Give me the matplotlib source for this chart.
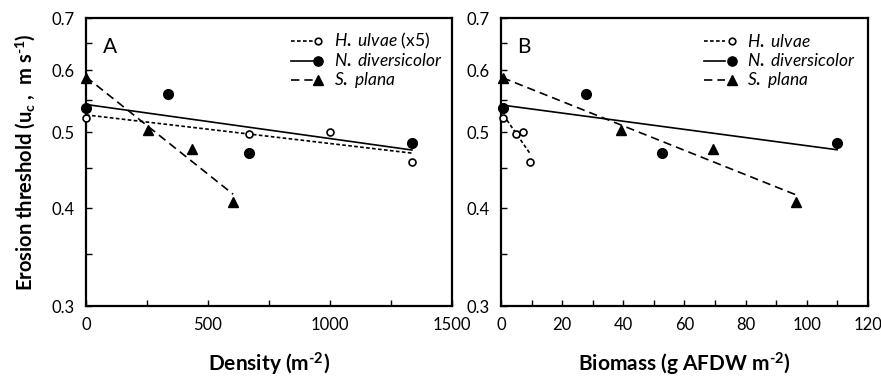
import matplotlib
matplotlib.use('Agg')
from matplotlib import pyplot as plt
from matplotlib.ticker import FixedLocator, NullFormatter
import numpy as np

plt.rcParams['font.family'] = ['Lato', 'DejaVu Sans']
plt.rcParams['mathtext.fontset'] = 'custom'
plt.rcParams['mathtext.rm'] = 'Lato:bold'
plt.rcParams['mathtext.it'] = 'Lato:italic'
plt.rcParams['mathtext.bf'] = 'Lato:bold'

# erosion threshold (m s-1), same for both panels
hul_u = [0.522, 0.498, 0.500, 0.459]
ndi_u = [0.537, 0.560, 0.471, 0.485]
spl_u = [0.587, 0.503, 0.476, 0.408]

# panel A: density (m-2)
hul_dens = [0, 667, 1000, 1336]
ndi_dens = [0, 335, 667, 1336]
spl_dens = [0, 253, 436, 603]

# panel B: biomass (g AFDW m-2)
hul_bio = [0.8, 4.9, 7.2, 9.5]
ndi_bio = [0.5, 27.8, 52.7, 109.9]
spl_bio = [0.5, 39.1, 69.2, 96.5]

yticks = [0.3, 0.4, 0.5, 0.6, 0.7]
yminor = [0.35, 0.45, 0.55, 0.65]

styles = {
    'hul': dict(ls=(0, (2.2, 1.4)), marker='o', mfc='white', ms=5, mew=1.2),
    'ndi': dict(ls='-', marker='o', mfc='black', ms=7, mew=1),
    'spl': dict(ls=(0, (5, 3)), marker='^', mfc='black', ms=7, mew=1),
}


def fit_line(ax, x, y, ls):
    # straight line on log axis -> fit log(u) against x
    x = np.array(x, float)
    k, b = np.polyfit(x, np.log(y), 1)
    xx = np.array([x.min(), x.max()])
    ax.plot(xx, np.exp(k * xx + b), color='black', lw=1.2, ls=ls)


def legend(ax, labels, x0, x1, xm, xt):
    rows = [0.92, 0.851, 0.785]
    for key, lab, yy in zip(['hul', 'ndi', 'spl'], labels, rows):
        st = styles[key]
        ax.plot([x0, x1], [yy, yy], transform=ax.transAxes, color='black',
                lw=1.2, ls=st['ls'], clip_on=False)
        ax.plot([xm], [yy], transform=ax.transAxes, color='black', ls='none',
                marker=st['marker'], mfc=st['mfc'], mec='black',
                ms=st['ms'] * 0.95, mew=st['mew'], clip_on=False)
        ax.text(xt, yy, lab, transform=ax.transAxes, fontsize=12.5,
                va='center', ha='left')


def panel(ax, data, xmax, xmaj, xmin, letter, xlabel, labels, leg):
    for key, (x, y) in data.items():
        st = styles[key]
        ax.plot(x, y, ls='none', marker=st['marker'], mfc=st['mfc'],
                mec='black', ms=st['ms'], mew=st['mew'], clip_on=False, zorder=3)
        fit_line(ax, x, y, st['ls'])
    ax.set_yscale('log')
    ax.set_ylim(0.3, 0.7)
    ax.set_xlim(0, xmax)
    ax.yaxis.set_major_locator(FixedLocator(yticks))
    ax.yaxis.set_minor_locator(FixedLocator(yminor))
    ax.yaxis.set_minor_formatter(NullFormatter())
    ax.set_yticklabels([str(v) for v in yticks])
    ax.set_xticks(xmaj)
    ax.set_xticks(xmin, minor=True)
    ax.tick_params(which='both', direction='in', length=4.5, width=1,
                   labelsize=12, pad=8, colors='black')
    for s in ax.spines.values():
        s.set_linewidth(1.6)
    ax.text(0.045, 0.9, letter, transform=ax.transAxes, fontsize=15,
            va='center', ha='left')
    ax.set_xlabel(xlabel, fontsize=15, fontweight='bold', labelpad=12.5)
    legend(ax, labels, *leg)


fig = plt.figure(figsize=(8.81, 3.76), dpi=100)
axA = fig.add_axes([0.0976, 0.186, 0.4154, 0.766])
axB = fig.add_axes([0.5687, 0.186, 0.4165, 0.766])

panel(axA, {'hul': (hul_dens, hul_u), 'ndi': (ndi_dens, ndi_u), 'spl': (spl_dens, spl_u)},
      1500, [0, 500, 1000, 1500], [250, 750, 1250], 'A', r'Density (m$^{\text{-}2}$)',
      [r'$\mathit{H.\ ulvae}$ (x5)', r'$\mathit{N.\ diversicolor}$', r'$\mathit{S.\ plana}$'],
      (0.56, 0.62, 0.634, 0.678))
panel(axB, {'hul': (hul_bio, hul_u), 'ndi': (ndi_bio, ndi_u), 'spl': (spl_bio, spl_u)},
      120, list(range(0, 121, 20)), list(range(10, 120, 20)), 'B',
      r'Biomass (g AFDW m$^{\text{-}2}$)',
      [r'$\mathit{H.\ ulvae}$', r'$\mathit{N.\ diversicolor}$', r'$\mathit{S.\ plana}$'],
      (0.553, 0.61, 0.629, 0.67))

axA.set_ylabel(r'Erosion threshold (u$_\mathrm{c}$ ,  m s$^{\text{-}1}$)',
               fontsize=14.5, fontweight='bold', labelpad=10)

fig.savefig('out.png', dpi=100)
